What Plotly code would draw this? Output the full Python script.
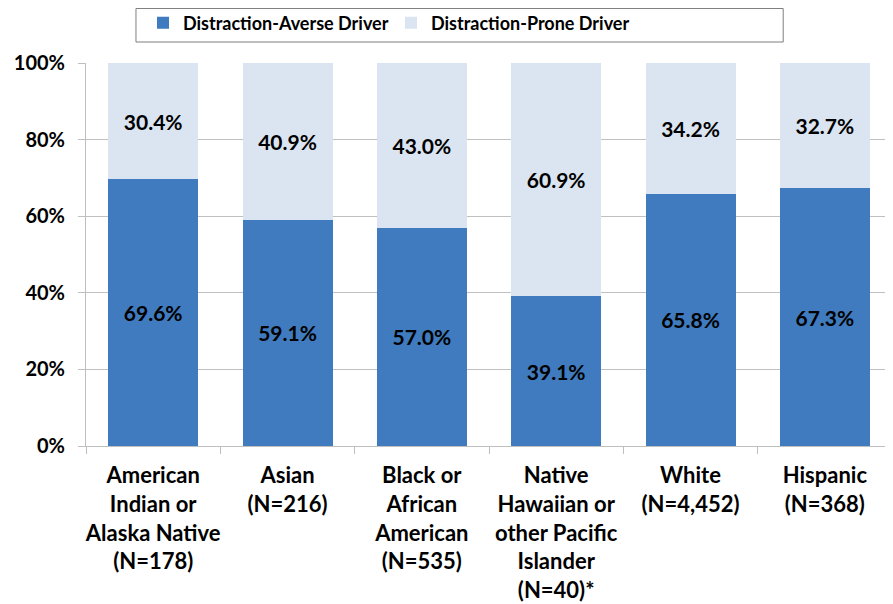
import plotly.graph_objects as go

categories = [
    "American<br>Indian or<br>Alaska Native<br>(N=178)",
    "Asian<br>(N=216)",
    "Black or<br>African<br>American<br>(N=535)",
    "Native<br>Hawaiian or<br>other Pacific<br>Islander<br>(N=40)*",
    "White<br>(N=4,452)",
    "Hispanic<br>(N=368)",
]
averse = [69.6, 59.1, 57.0, 39.1, 65.8, 67.3]
prone = [30.4, 40.9, 43.0, 60.9, 34.2, 32.7]
yticks = [0, 20, 40, 60, 80, 100]
yticktext = ["0%", "20%", "40%", "60%", "80%", "100%"]

FONT = "Lato, 'Open Sans', 'DejaVu Sans', sans-serif"
FS = 21

# page body has an 8px margin, so the figure is sized/offset to compensate
W, H = 885, 596

fig = go.Figure()
fig.add_trace(go.Bar(
    x=categories, y=averse, name="Distraction-Averse Driver",
    marker=dict(color="#3F7BBE", line=dict(width=0)),
    texttemplate="%{y:.1f}%", textposition="inside", insidetextanchor="middle",
    textfont=dict(size=FS, color="black", family=FONT, weight="bold"),
))
fig.add_trace(go.Bar(
    x=categories, y=prone, name="Distraction-Prone Driver",
    marker=dict(color="#DBE5F1", line=dict(width=0)),
    texttemplate="%{y:.1f}%", textposition="inside", insidetextanchor="middle",
    textfont=dict(size=FS, color="black", family=FONT, weight="bold"),
))

fig.update_layout(
    barmode="stack",
    bargap=0.33,
    width=W, height=H,
    margin=dict(l=78, r=1, t=55, b=158, autoexpand=False),
    paper_bgcolor="white", plot_bgcolor="white",
    font=dict(family=FONT, size=FS, color="black", weight="bold"),
    showlegend=True,
    legend=dict(
        orientation="h", xref="container", yref="paper",
        x=135 / W, xanchor="left", y=1.104, yanchor="middle",
        borderwidth=0, bgcolor="rgba(0,0,0,0)",
        font=dict(size=18, family=FONT, weight="bold"),
        traceorder="normal", entrywidth=203,
    ),
    shapes=[dict(
        type="rect", xref="paper", yref="paper",
        x0=0.062, x1=0.865, y0=1.0548, y1=1.1423,
        line=dict(color="#7F7F7F", width=1), fillcolor="rgba(0,0,0,0)",
        layer="below",
    )],
    uniformtext=dict(minsize=FS, mode="show"),
)
fig.update_yaxes(
    range=[0, 100], tickvals=yticks, ticktext=yticktext,
    showgrid=True, gridcolor="#C0C0C0", gridwidth=1,
    showline=True, linecolor="#BFBFBF", linewidth=1,
    ticks="outside", ticklen=7, tickcolor="#BFBFBF",
    zeroline=False, tickfont=dict(size=20, weight="bold"),
    ticklabelstandoff=9, automargin=False,
)
fig.update_xaxes(
    showline=True, linecolor="#BFBFBF", linewidth=1,
    ticks="outside", ticklen=7, tickcolor="#BFBFBF", tickson="boundaries",
    tickfont=dict(size=22, weight="bold"), tickangle=0,
    ticklabelstandoff=10, automargin=False,
)

fig.write_html("out.html")
